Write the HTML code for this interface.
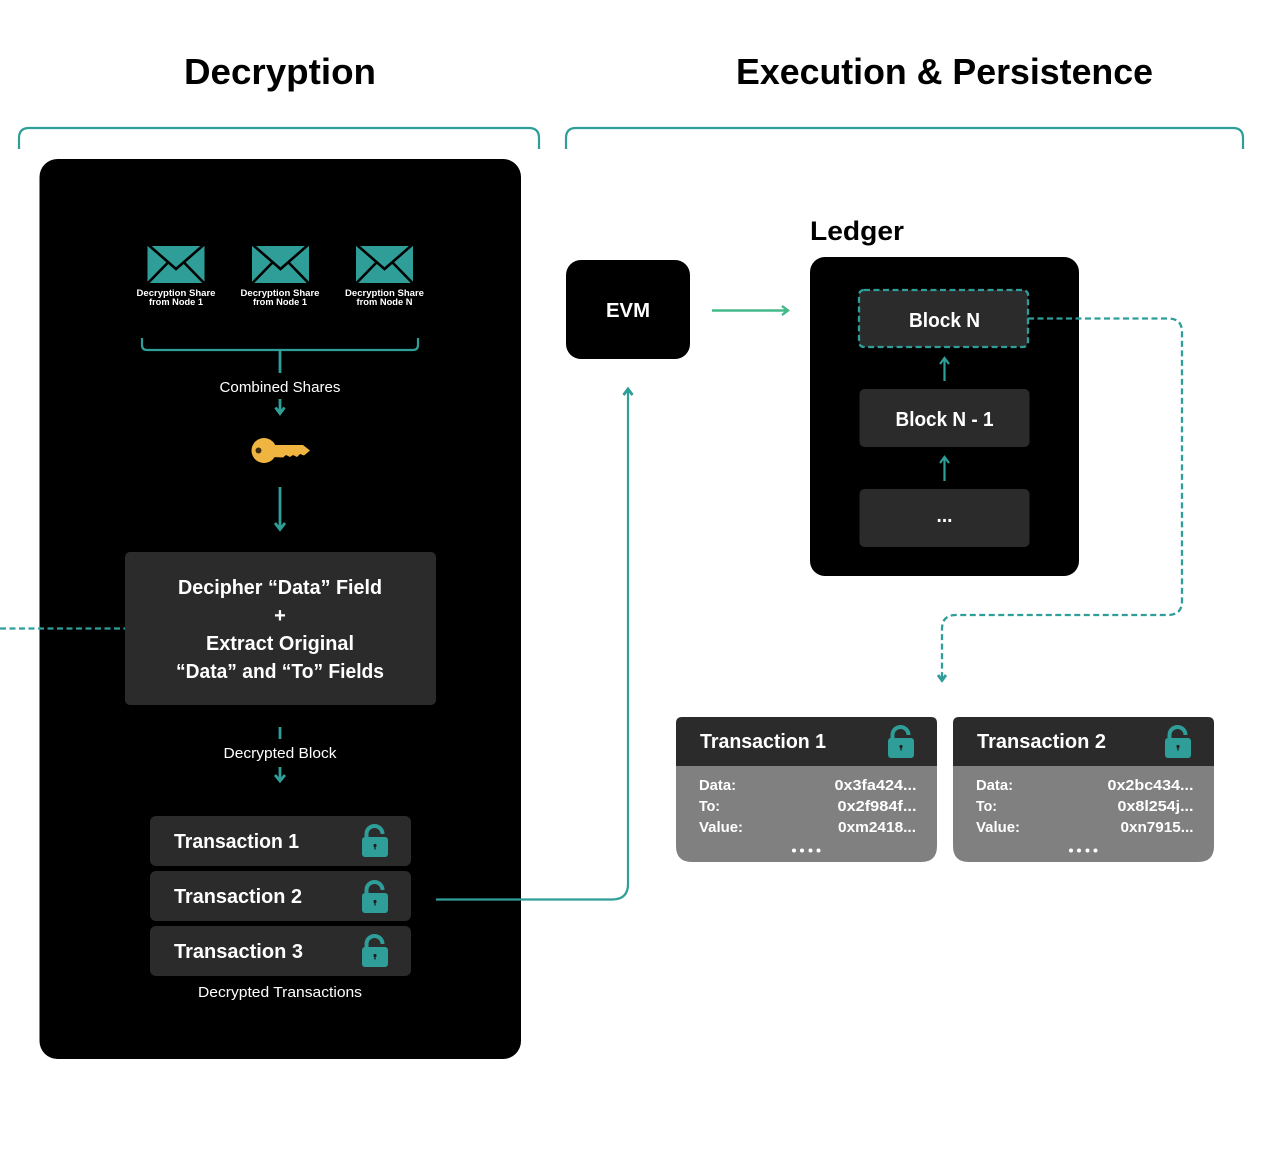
<!DOCTYPE html>
<html><head><meta charset="utf-8"><style>
html,body{margin:0;padding:0;background:#fff}
svg{display:block}
text{font-family:"Liberation Sans",sans-serif}
.b{font-weight:700}
.w{fill:#fff}
.t{fill:none;stroke:#2f9e98;stroke-width:2.2}
.h{fill:none;stroke:#2f9e98;stroke-width:2.8}
.tf{fill:#2f9e98}
.d{stroke-width:2.3;stroke-dasharray:6 3.5}
</style></head><body>
<svg width="1280" height="1153" viewBox="0 0 1280 1153" xmlns="http://www.w3.org/2000/svg">
<defs>
<g id="env">
<rect x="0" y="0" width="57" height="37" fill="#2f9e98"/>
<path d="M1 -1 L28.500 23 L56 -1 M0 37.500 L20 17 M57 37.500 L37 17" fill="none" stroke="#000" stroke-width="2.600"/>
</g>
<g id="lock">
<path d="M4.500 14 V10 A8 8 0 0 1 20.500 10" fill="none" stroke="#2f9e98" stroke-width="4"/>
<rect x="0" y="13" width="26" height="20" rx="3" fill="#2f9e98"/>
<circle cx="13" cy="21.500" r="1.600" fill="#222"/><rect x="12.300" y="22" width="1.400" height="3.500" fill="#222"/>
</g>
</defs>
<rect width="1280" height="1153" fill="#fff"/>

<text x="184" y="84" class="b" font-size="36" textLength="192" lengthAdjust="spacingAndGlyphs">Decryption</text>
<text x="736" y="84" class="b" font-size="36" textLength="417" lengthAdjust="spacingAndGlyphs">Execution &amp; Persistence</text>

<path class="t" d="M19 149 V138 Q19 128 29 128 H529 Q539 128 539 138 V149"/>
<path class="t" d="M566 149 V138 Q566 128 576 128 H1233 Q1243 128 1243 138 V149"/>

<rect x="39.500" y="159" width="481.500" height="900" rx="18" fill="#000"/>

<use href="#env" x="147.500" y="246"/>
<use href="#env" x="252" y="246"/>
<use href="#env" x="356" y="246"/>
<g class="w b" font-size="9.500" text-anchor="middle">
<text x="176" y="296" textLength="79" lengthAdjust="spacingAndGlyphs">Decryption Share</text>
<text x="176" y="305" textLength="54" lengthAdjust="spacingAndGlyphs">from Node 1</text>
<text x="280" y="296" textLength="79" lengthAdjust="spacingAndGlyphs">Decryption Share</text>
<text x="280" y="305" textLength="54" lengthAdjust="spacingAndGlyphs">from Node 1</text>
<text x="384.500" y="296" textLength="79" lengthAdjust="spacingAndGlyphs">Decryption Share</text>
<text x="384.500" y="305" textLength="56" lengthAdjust="spacingAndGlyphs">from Node N</text>
</g>

<path class="t" d="M142 338 V345 Q142 350 147 350 H413 Q418 350 418 345 V338"/>
<path class="h" d="M280 350 V373"/>
<text x="280" y="392" class="w" font-size="14.500" text-anchor="middle" textLength="121" lengthAdjust="spacingAndGlyphs">Combined Shares</text>
<path class="h" d="M280 399 V413 M275.500 407.500 L280 413.500 L284.500 407.500"/>

<g fill="#f0b541">
<circle cx="264" cy="450.500" r="12.500"/>
<path d="M272 445 H303 L310 450.500 L304 455.500 L300 454 L297 457 L293 455 L290 457 L286 455 L283 457.500 L272 457 Z"/>
</g>
<circle cx="258.500" cy="450.500" r="3" fill="#000" opacity=".75"/>

<path class="h" d="M280 487 V529 M275 523 L280 529.500 L285 523"/>

<rect x="125" y="552" width="311" height="153" rx="5" fill="#2b2b2b"/>
<g class="w b" text-anchor="middle" font-size="20">
<text x="280" y="594" textLength="204" lengthAdjust="spacingAndGlyphs">Decipher “Data” Field</text>
<text x="280" y="622">+</text>
<text x="280" y="650" textLength="148" lengthAdjust="spacingAndGlyphs">Extract Original</text>
<text x="280" y="678" textLength="208" lengthAdjust="spacingAndGlyphs">“Data” and “To” Fields</text>
</g>
<path class="t d" d="M0 628.500 H125"/>

<path class="h" d="M280 727 V739"/>
<text x="280" y="758" class="w" font-size="14.500" text-anchor="middle" textLength="113" lengthAdjust="spacingAndGlyphs">Decrypted Block</text>
<path class="h" d="M280 767 V781 M275 775 L280 781 L285 775"/>

<rect x="150" y="816" width="261" height="50" rx="6" fill="#2b2b2b"/>
<rect x="150" y="871" width="261" height="50" rx="6" fill="#2b2b2b"/>
<rect x="150" y="926" width="261" height="50" rx="6" fill="#2b2b2b"/>
<g class="w b" font-size="20">
<text x="174" y="848" textLength="125" lengthAdjust="spacingAndGlyphs">Transaction 1</text>
<text x="174" y="903" textLength="128" lengthAdjust="spacingAndGlyphs">Transaction 2</text>
<text x="174" y="958" textLength="129" lengthAdjust="spacingAndGlyphs">Transaction 3</text>
</g>
<use href="#lock" x="362" y="824"/>
<use href="#lock" x="362" y="880"/>
<use href="#lock" x="362" y="934"/>
<text x="280" y="997" class="w" font-size="14.500" text-anchor="middle" textLength="164" lengthAdjust="spacingAndGlyphs">Decrypted Transactions</text>

<path class="t" d="M436 899.500 H612 Q628 899.500 628 884 V389"/>
<path class="h" d="M623.500 395 L628 389 L632.500 395"/>

<rect x="566" y="260" width="124" height="99" rx="15" fill="#000"/>
<text x="628" y="317" class="w b" font-size="20" text-anchor="middle" textLength="44" lengthAdjust="spacingAndGlyphs">EVM</text>
<path fill="none" stroke="#45b98a" stroke-width="2.400" d="M712 310.500 H788 M782 306 L788 310.500 L782 315"/>

<text x="810" y="240" class="b" font-size="27" textLength="94" lengthAdjust="spacingAndGlyphs">Ledger</text>
<rect x="810" y="257" width="269" height="319" rx="15" fill="#000"/>

<rect x="859" y="290" width="169" height="57" rx="5" fill="#2b2b2b"/>
<rect x="859" y="290" width="169" height="57" rx="5" class="t d"/>
<rect x="859.500" y="389" width="170" height="58" rx="5" fill="#2b2b2b"/>
<rect x="859.500" y="489" width="170" height="58" rx="5" fill="#2b2b2b"/>
<g class="w b" font-size="20" text-anchor="middle">
<text x="944.500" y="327" textLength="71" lengthAdjust="spacingAndGlyphs">Block N</text>
<text x="944.500" y="426" textLength="98" lengthAdjust="spacingAndGlyphs">Block N - 1</text>
<text x="944.500" y="522" textLength="16" lengthAdjust="spacingAndGlyphs">...</text>
</g>
<path class="t" d="M944.500 381 V358 M940 364 L944.500 358 L949 364"/>
<path class="t" d="M944.500 481 V457 M940 463 L944.500 457 L949 463"/>

<path class="t d" d="M1028 318.500 H1168 Q1182 318.500 1182 332 V601 Q1182 615 1168 615 H956 Q942 615 942 629 V680"/>
<path class="h" d="M938 675 L942 680.500 L946 675"/>

<g>
<path d="M676 766 H937 V846 Q937 862 921 862 H692 Q676 862 676 846 Z" fill="#808080"/>
<path d="M676 766 V723 Q676 717 682 717 H931 Q937 717 937 723 V766 Z" fill="#2b2b2b"/>
<text x="700" y="748" class="w b" font-size="20" textLength="126" lengthAdjust="spacingAndGlyphs">Transaction 1</text>
<use href="#lock" x="888" y="725"/>
<g class="w b" font-size="14.500">
<text x="699" y="790" textLength="37" lengthAdjust="spacingAndGlyphs">Data:</text>
<text x="699" y="811" textLength="21" lengthAdjust="spacingAndGlyphs">To:</text>
<text x="699" y="832" textLength="44" lengthAdjust="spacingAndGlyphs">Value:</text>
<text x="834.500" y="790" textLength="82" lengthAdjust="spacingAndGlyphs">0x3fa424...</text>
<text x="837.500" y="811" textLength="79" lengthAdjust="spacingAndGlyphs">0x2f984f...</text>
<text x="838" y="832" textLength="78" lengthAdjust="spacingAndGlyphs">0xm2418...</text>
</g>
<g class="w"><circle cx="794" cy="850.500" r="2"/><circle cx="802" cy="850.500" r="2"/><circle cx="810.500" cy="850.500" r="2"/><circle cx="818.500" cy="850.500" r="2"/></g>
</g>
<g>
<path d="M953 766 H1214 V846 Q1214 862 1198 862 H969 Q953 862 953 846 Z" fill="#808080"/>
<path d="M953 766 V723 Q953 717 959 717 H1208 Q1214 717 1214 723 V766 Z" fill="#2b2b2b"/>
<text x="977" y="748" class="w b" font-size="20" textLength="129" lengthAdjust="spacingAndGlyphs">Transaction 2</text>
<use href="#lock" x="1165" y="725"/>
<g class="w b" font-size="14.500">
<text x="976" y="790" textLength="37" lengthAdjust="spacingAndGlyphs">Data:</text>
<text x="976" y="811" textLength="21" lengthAdjust="spacingAndGlyphs">To:</text>
<text x="976" y="832" textLength="44" lengthAdjust="spacingAndGlyphs">Value:</text>
<text x="1107.500" y="790" textLength="86" lengthAdjust="spacingAndGlyphs">0x2bc434...</text>
<text x="1117.500" y="811" textLength="76" lengthAdjust="spacingAndGlyphs">0x8l254j...</text>
<text x="1120.500" y="832" textLength="73" lengthAdjust="spacingAndGlyphs">0xn7915...</text>
</g>
<g class="w"><circle cx="1071" cy="850.500" r="2"/><circle cx="1079" cy="850.500" r="2"/><circle cx="1087.500" cy="850.500" r="2"/><circle cx="1095.500" cy="850.500" r="2"/></g>
</g>
</svg>
</body></html>
